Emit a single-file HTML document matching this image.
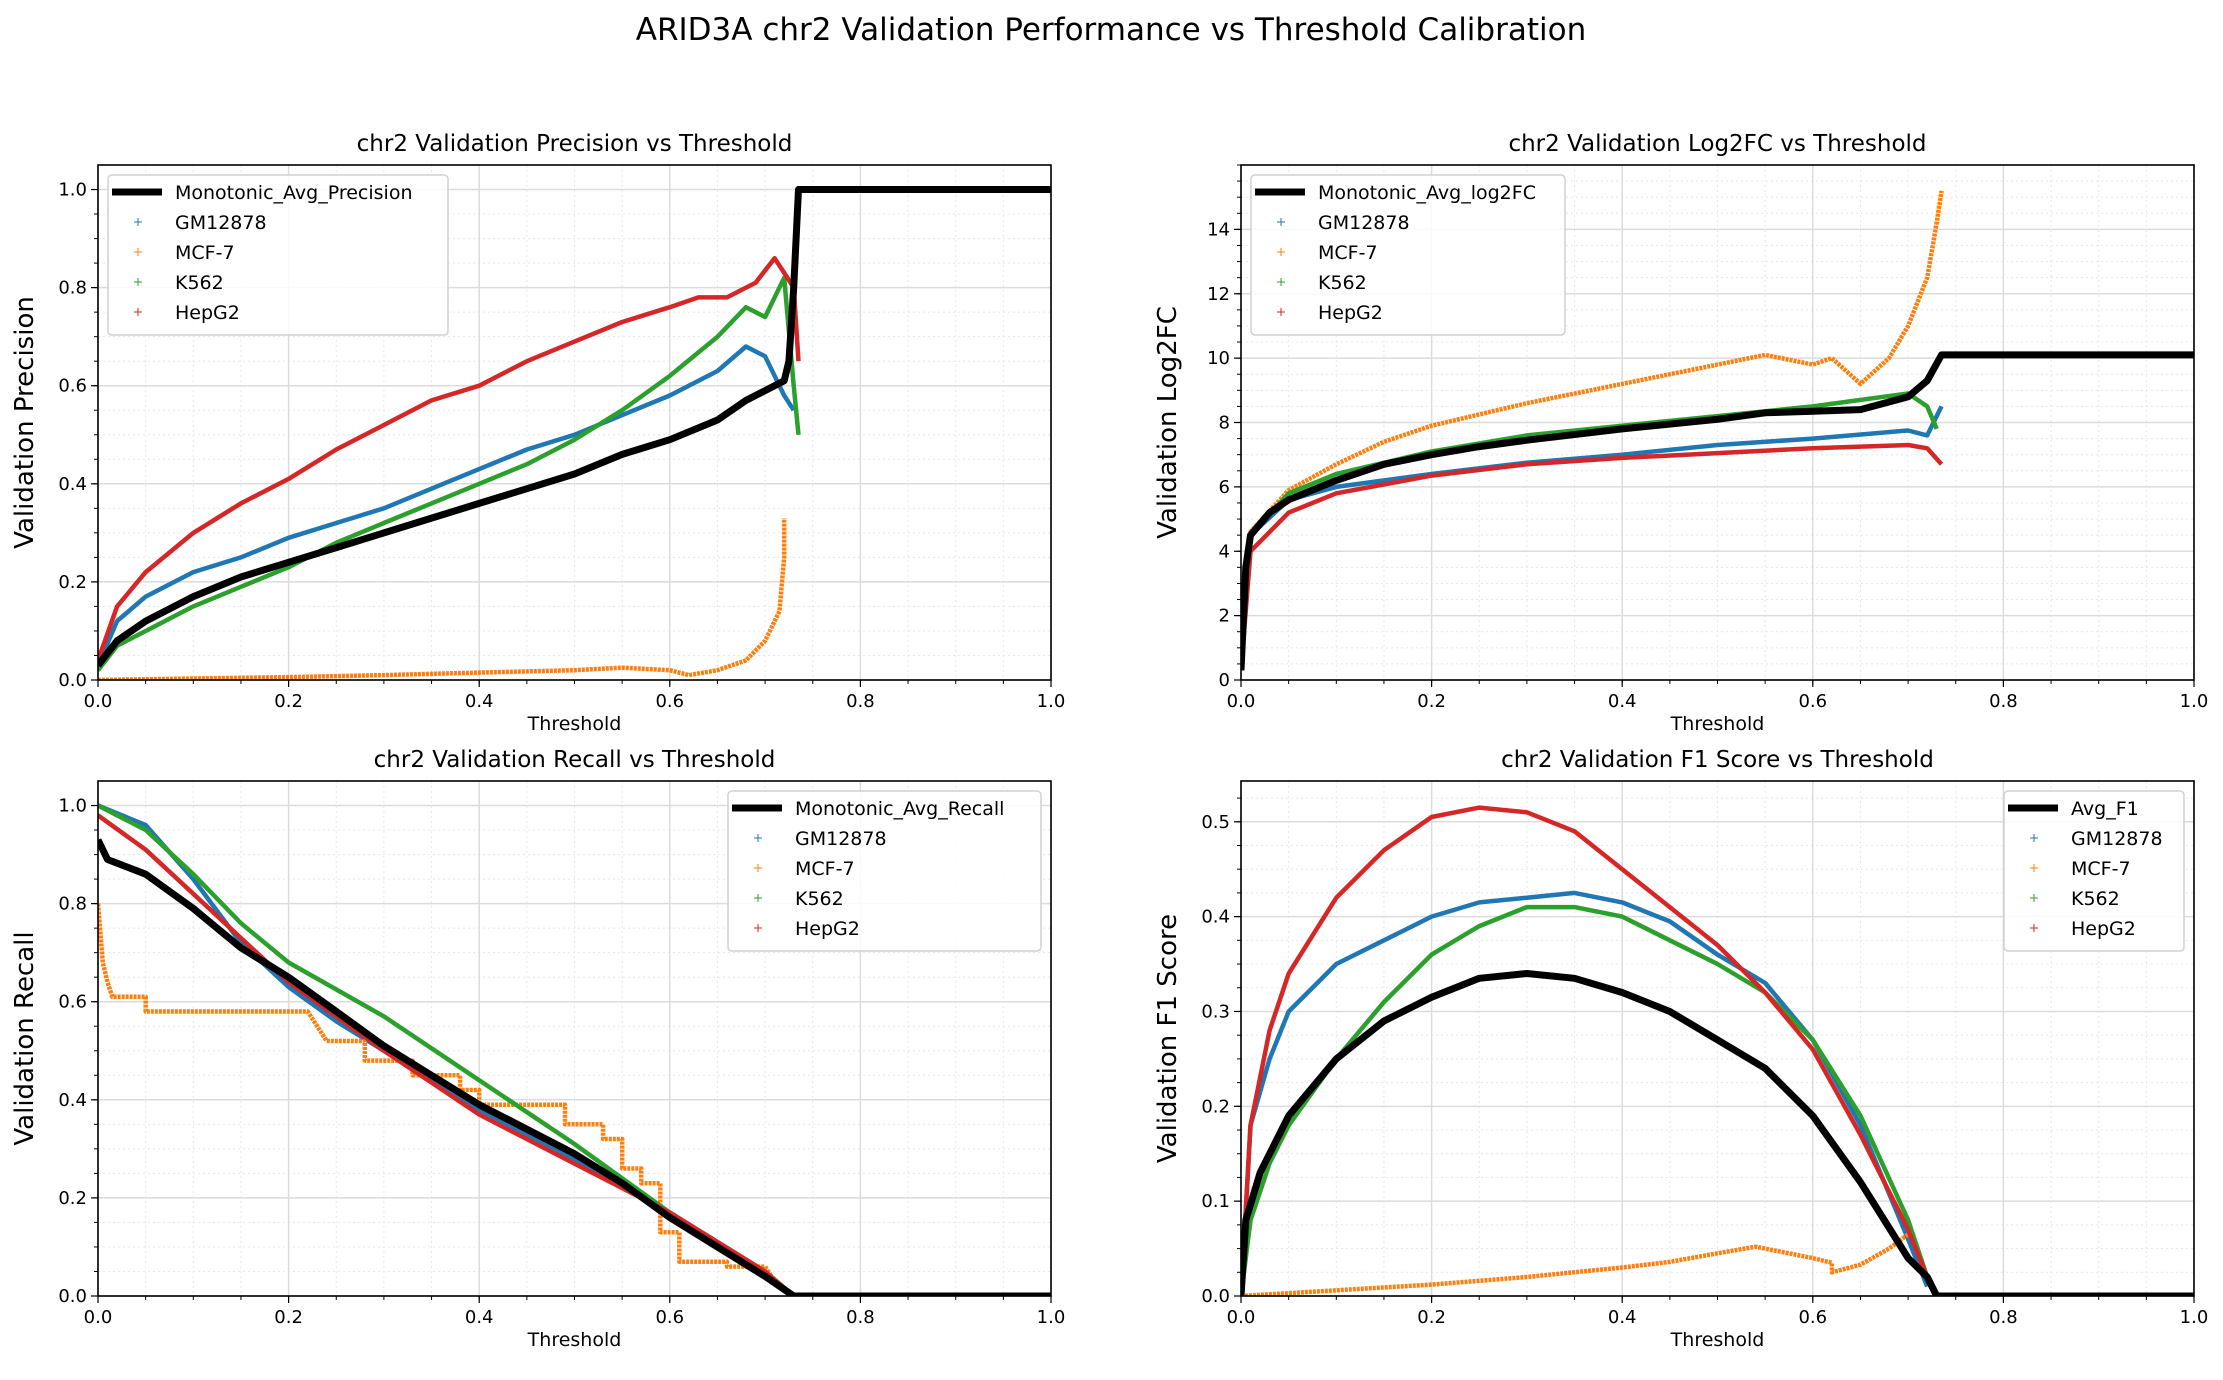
<!DOCTYPE html>
<html><head><meta charset="utf-8"><style>
body{margin:0;background:#fff;}
svg text{font-family:"DejaVu Sans","Liberation Sans",sans-serif;fill:#000;}
</style></head><body>
<svg id="fig" width="2223" height="1375" viewBox="0 0 2223 1375" xmlns="http://www.w3.org/2000/svg">
<rect width="2223" height="1375" fill="#fff"/>
<text x="1111" y="40" font-size="31" text-anchor="middle">ARID3A chr2 Validation Performance vs Threshold Calibration</text>
</svg>
<script>
// ---- Precision panel data ----
const precBlackX=[0,0.02,0.05,0.1,0.15,0.2,0.25,0.3,0.35,0.4,0.45,0.5,0.55,0.6,0.65,0.68,0.7,0.72,0.725,0.73,0.735,1.0];
const precBlackY=[0.03,0.08,0.12,0.17,0.21,0.24,0.27,0.30,0.33,0.36,0.39,0.42,0.46,0.49,0.53,0.57,0.59,0.61,0.65,0.8,1.0,1.0];
const precGMX=[0,0.02,0.05,0.1,0.15,0.2,0.25,0.3,0.35,0.4,0.45,0.5,0.55,0.6,0.65,0.68,0.70,0.72,0.73];
const precGMY=[0.03,0.12,0.17,0.22,0.25,0.29,0.32,0.35,0.39,0.43,0.47,0.50,0.54,0.58,0.63,0.68,0.66,0.58,0.55];
const precK5X=[0,0.02,0.05,0.1,0.15,0.2,0.25,0.3,0.35,0.4,0.45,0.5,0.55,0.6,0.65,0.68,0.70,0.72,0.73,0.735];
const precK5Y=[0.02,0.07,0.10,0.15,0.19,0.23,0.28,0.32,0.36,0.40,0.44,0.49,0.55,0.62,0.70,0.76,0.74,0.82,0.6,0.5];
const precHepX=[0,0.02,0.05,0.1,0.15,0.2,0.25,0.3,0.35,0.4,0.45,0.5,0.55,0.6,0.63,0.66,0.69,0.71,0.72,0.73,0.735];
const precHepY=[0.04,0.15,0.22,0.30,0.36,0.41,0.47,0.52,0.57,0.60,0.65,0.69,0.73,0.76,0.78,0.78,0.81,0.86,0.83,0.80,0.65];
const precMCFX=[0,0.1,0.2,0.3,0.4,0.5,0.55,0.6,0.62,0.65,0.68,0.7,0.715,0.72,0.72];
const precMCFY=[0,0.003,0.006,0.01,0.015,0.02,0.025,0.02,0.01,0.02,0.04,0.08,0.14,0.25,0.33];
// ---- Log2FC panel data ----
const lfcBlackX=[0,0.005,0.01,0.03,0.05,0.1,0.15,0.2,0.25,0.3,0.4,0.5,0.55,0.6,0.65,0.7,0.72,0.735,1];
const lfcBlackY=[0.3,3.5,4.5,5.2,5.6,6.2,6.7,7.0,7.25,7.45,7.8,8.1,8.3,8.35,8.4,8.8,9.3,10.1,10.1];
const lfcGMX=[0,0.01,0.05,0.1,0.2,0.3,0.4,0.5,0.6,0.7,0.72,0.735];
const lfcGMY=[0.5,4.5,5.6,6.0,6.4,6.75,7.0,7.3,7.5,7.75,7.6,8.5];
const lfcMCFX=[0,0.01,0.05,0.1,0.15,0.2,0.3,0.4,0.5,0.55,0.6,0.62,0.65,0.68,0.7,0.72,0.73,0.735];
const lfcMCFY=[0.5,4.6,5.9,6.7,7.4,7.9,8.6,9.2,9.8,10.1,9.8,10.0,9.2,10.0,11,12.5,14.2,15.2];
const lfcK5X=[0,0.01,0.05,0.1,0.2,0.3,0.4,0.5,0.6,0.7,0.72,0.73];
const lfcK5Y=[0.5,4.5,5.8,6.4,7.1,7.6,7.9,8.2,8.5,8.9,8.5,7.8];
const lfcHepX=[0,0.01,0.05,0.1,0.2,0.3,0.4,0.5,0.6,0.7,0.72,0.735];
const lfcHepY=[0.3,4.0,5.2,5.8,6.35,6.7,6.9,7.05,7.2,7.3,7.2,6.7];
// ---- Recall panel data ----
const recBlackX=[0,0.01,0.05,0.1,0.15,0.2,0.25,0.3,0.35,0.4,0.45,0.5,0.55,0.6,0.65,0.7,0.73,1];
const recBlackY=[0.93,0.89,0.86,0.79,0.71,0.65,0.58,0.51,0.45,0.39,0.34,0.29,0.23,0.16,0.10,0.04,0,0];
const recGMX=[0,0.05,0.1,0.15,0.2,0.25,0.3,0.4,0.5,0.6,0.7,0.73];
const recGMY=[1.0,0.96,0.85,0.72,0.63,0.56,0.50,0.38,0.28,0.17,0.05,0];
const recK5X=[0,0.05,0.1,0.15,0.2,0.3,0.4,0.5,0.6,0.7,0.73];
const recK5Y=[1.0,0.95,0.86,0.76,0.68,0.57,0.44,0.31,0.17,0.04,0];
const recHepX=[0,0.05,0.1,0.15,0.2,0.3,0.4,0.5,0.6,0.7,0.73];
const recHepY=[0.98,0.91,0.82,0.73,0.64,0.50,0.37,0.27,0.17,0.05,0];
const recMCFX=[0,0.005,0.01,0.015,0.05,0.05,0.22,0.23,0.24,0.28,0.28,0.33,0.33,0.38,0.38,0.4,0.4,0.49,0.49,0.53,0.53,0.55,0.55,0.57,0.57,0.59,0.59,0.61,0.61,0.66,0.66,0.7,0.71,0.73];
const recMCFY=[0.8,0.68,0.64,0.61,0.61,0.58,0.58,0.55,0.52,0.52,0.48,0.48,0.45,0.45,0.42,0.42,0.39,0.39,0.35,0.35,0.32,0.32,0.26,0.26,0.23,0.23,0.13,0.13,0.07,0.07,0.06,0.06,0.03,0];
// ---- F1 panel data ----
const f1BlackX=[0,0.005,0.02,0.05,0.1,0.15,0.2,0.25,0.3,0.35,0.4,0.45,0.5,0.55,0.6,0.65,0.7,0.72,0.73,1];
const f1BlackY=[0,0.08,0.13,0.19,0.25,0.29,0.315,0.335,0.34,0.335,0.32,0.30,0.27,0.24,0.19,0.12,0.04,0.02,0,0];
const f1GMX=[0,0.01,0.03,0.05,0.1,0.15,0.2,0.25,0.3,0.35,0.4,0.45,0.5,0.55,0.6,0.65,0.7,0.72];
const f1GMY=[0,0.18,0.25,0.30,0.35,0.375,0.40,0.415,0.42,0.425,0.415,0.395,0.36,0.33,0.27,0.18,0.06,0.01];
const f1K5X=[0,0.01,0.03,0.05,0.1,0.15,0.2,0.25,0.3,0.35,0.4,0.45,0.5,0.55,0.6,0.65,0.7,0.72];
const f1K5Y=[0,0.08,0.14,0.18,0.25,0.31,0.36,0.39,0.41,0.41,0.40,0.375,0.35,0.32,0.27,0.19,0.08,0.02];
const f1HepX=[0,0.01,0.03,0.05,0.1,0.15,0.2,0.25,0.3,0.35,0.4,0.45,0.5,0.55,0.6,0.65,0.7,0.72];
const f1HepY=[0,0.18,0.28,0.34,0.42,0.47,0.505,0.515,0.51,0.49,0.45,0.41,0.37,0.32,0.26,0.17,0.07,0.02];
const f1MCFX=[0,0.1,0.2,0.3,0.4,0.45,0.5,0.54,0.56,0.6,0.62,0.62,0.65,0.68,0.7];
const f1MCFY=[0,0.006,0.012,0.02,0.03,0.036,0.045,0.052,0.048,0.04,0.035,0.025,0.033,0.05,0.065];
// tick labels
const xTickVals=[0,0.2,0.4,0.6,0.8,1.0];
const precTickVals=[0,0.2,0.4,0.6,0.8,1.0];
const lfcTickVals=[0,2,4,6,8,10,12,14];
const recTickVals=[0,0.2,0.4,0.6,0.8,1.0];
const f1TickVals=[0,0.1,0.2,0.3,0.4,0.5];
const cellNames=['GM12878','MCF-7','K562','HepG2'];

const NS='http://www.w3.org/2000/svg';
const svg=document.getElementById('fig');
const COL={GM12878:'#1f77b4','MCF-7':'#ff7f0e',K562:'#2ca02c',HepG2:'#d62728'};
function mk(tag,attrs,parent){const e=document.createElementNS(NS,tag);for(const k in attrs)e.setAttribute(k,attrs[k]);(parent||svg).appendChild(e);return e;}

function panel(o){
  const g=mk('g',{});
  
  
  const L=o.L,T=o.T,W=953,H=515;
  const sx=v=>L+v*W, sy=v=>T+H-(v-o.ymin)/(o.ymax-o.ymin)*H;
  for(let v=0;v<=1.0001;v+=0.05){mk('line',{x1:sx(v),x2:sx(v),y1:T,y2:T+H,stroke:'#e8e8e8','stroke-width':1,'stroke-dasharray':'2,3'},g);}
  for(let v=o.ymin;v<=o.ymax;v+=o.minor){mk('line',{x1:L,x2:L+W,y1:sy(v),y2:sy(v),stroke:'#e8e8e8','stroke-width':1,'stroke-dasharray':'2,3'},g);}
  xTickVals.forEach(v=>mk('line',{x1:sx(v),x2:sx(v),y1:T,y2:T+H,stroke:'#dcdcdc','stroke-width':1.5},g));
  o.yticks.forEach(v=>mk('line',{x1:L,x2:L+W,y1:sy(v),y2:sy(v),stroke:'#dcdcdc','stroke-width':1.5},g));
  const cp='clip-'+o.name;
  const cpe=mk('clipPath',{id:cp},g);mk('rect',{x:L,y:T-6,width:W,height:H+6},cpe);
  const dg=mk('g',{'clip-path':'url(#'+cp+')'},g);
  o.series.forEach(s=>{
    const pts=s.x.map((xv,i)=>sx(xv).toFixed(1)+','+sy(s.y[i]).toFixed(1)).join(' ');
    const pl=mk('polyline',{points:pts,fill:'none',stroke:COL[s.n],'stroke-width':4.5,'stroke-linejoin':'round','stroke-dasharray':s.n==='MCF-7'?'3,1':'none'},dg);
    
    
  });
  const bpts=o.bx.map((xv,i)=>sx(xv).toFixed(1)+','+sy(o.by[i]).toFixed(1)).join(' ');
  const bl=mk('polyline',{points:bpts,fill:'none',stroke:'#000','stroke-width':7,'stroke-linejoin':'round'},dg);
  
  
  mk('rect',{x:L,y:T,width:W,height:H,fill:'none',stroke:'#000','stroke-width':1.6},g);
  for(let v=0;v<=1.0001;v+=0.05){mk('line',{x1:sx(v),x2:sx(v),y1:T+H,y2:T+H+4,stroke:'#000','stroke-width':1},g);}
  xTickVals.forEach(v=>{
    mk('line',{x1:sx(v),x2:sx(v),y1:T+H,y2:T+H+7,stroke:'#000','stroke-width':1.2},g);
    const t=mk('text',{x:sx(v),y:T+H+27,'font-size':18,'text-anchor':'middle'},g);t.textContent=v.toFixed(1);
    
  });
  for(let v=o.ymin;v<=o.ymax;v+=o.minor){mk('line',{x1:L-4,x2:L,y1:sy(v),y2:sy(v),stroke:'#000','stroke-width':1},g);}
  o.yticks.forEach(v=>{
    mk('line',{x1:L-7,x2:L,y1:sy(v),y2:sy(v),stroke:'#000','stroke-width':1.2},g);
    const t=mk('text',{x:L-11,y:sy(v)+6,'font-size':18,'text-anchor':'end'},g);t.textContent=o.fmt(v);
    
  });
  let t=mk('text',{x:L+W/2,y:T+H+50,'font-size':19,'text-anchor':'middle'},g);t.textContent='Threshold';
  
  t=mk('text',{x:0,y:0,'font-size':26,'text-anchor':'middle',transform:'translate('+(L-65)+','+(T+H/2)+') rotate(-90)'},g);t.textContent=o.ylabel;
  
  t=mk('text',{x:L+W/2,y:T-14,'font-size':23,'text-anchor':'middle'},g);t.textContent=o.title;
  
  const lw=o.lw,lx=o.right?L+W-lw-10:L+10,ly=T+10;
  const lg=mk('g',{},g);
  
  mk('rect',{x:lx,y:ly,width:lw,height:160,rx:4,fill:'#fff','fill-opacity':0.85,stroke:'#d0d0d0','stroke-width':1.5},lg);
  mk('line',{x1:lx+4,x2:lx+54,y1:ly+17,y2:ly+17,stroke:'#000','stroke-width':7},lg);
  t=mk('text',{x:lx+67,y:ly+24,'font-size':19},lg);t.textContent=o.avgName;
  cellNames.forEach((n,i)=>{
    const yy=ly+47+i*30;
    mk('path',{d:'M'+(lx+26)+' '+yy+'h8M'+(lx+30)+' '+(yy-4)+'v8',stroke:COL[n],'stroke-width':1},lg);
    const tt=mk('text',{x:lx+67,y:yy+7,'font-size':19},lg);tt.textContent=n;
    
  });
}
const f1=v=>v.toFixed(1);
panel({name:'precision',L:98,T:165,ymin:0,ymax:1.05,minor:0.05,yticks:precTickVals,fmt:f1,
  title:'chr2 Validation Precision vs Threshold',ylabel:'Validation Precision',avgName:'Monotonic_Avg_Precision',lw:340,right:false,
  bx:precBlackX,by:precBlackY,series:[{n:'GM12878',x:precGMX,y:precGMY},{n:'MCF-7',x:precMCFX,y:precMCFY},{n:'K562',x:precK5X,y:precK5Y},{n:'HepG2',x:precHepX,y:precHepY}]});
panel({name:'log2fc',L:1241,T:165,ymin:0,ymax:16,minor:0.5,yticks:lfcTickVals,fmt:v=>String(v),
  title:'chr2 Validation Log2FC vs Threshold',ylabel:'Validation Log2FC',avgName:'Monotonic_Avg_log2FC',lw:314,right:false,
  bx:lfcBlackX,by:lfcBlackY,series:[{n:'GM12878',x:lfcGMX,y:lfcGMY},{n:'MCF-7',x:lfcMCFX,y:lfcMCFY},{n:'K562',x:lfcK5X,y:lfcK5Y},{n:'HepG2',x:lfcHepX,y:lfcHepY}]});
panel({name:'recall',L:98,T:781,ymin:0,ymax:1.05,minor:0.05,yticks:recTickVals,fmt:f1,
  title:'chr2 Validation Recall vs Threshold',ylabel:'Validation Recall',avgName:'Monotonic_Avg_Recall',lw:313,right:true,
  bx:recBlackX,by:recBlackY,series:[{n:'GM12878',x:recGMX,y:recGMY},{n:'MCF-7',x:recMCFX,y:recMCFY},{n:'K562',x:recK5X,y:recK5Y},{n:'HepG2',x:recHepX,y:recHepY}]});
panel({name:'f1',L:1241,T:781,ymin:0,ymax:0.543,minor:0.025,yticks:f1TickVals,fmt:f1,
  title:'chr2 Validation F1 Score vs Threshold',ylabel:'Validation F1 Score',avgName:'Avg_F1',lw:180,right:true,
  bx:f1BlackX,by:f1BlackY,series:[{n:'GM12878',x:f1GMX,y:f1GMY},{n:'MCF-7',x:f1MCFX,y:f1MCFY},{n:'K562',x:f1K5X,y:f1K5Y},{n:'HepG2',x:f1HepX,y:f1HepY}]});
</script>
</body></html>
